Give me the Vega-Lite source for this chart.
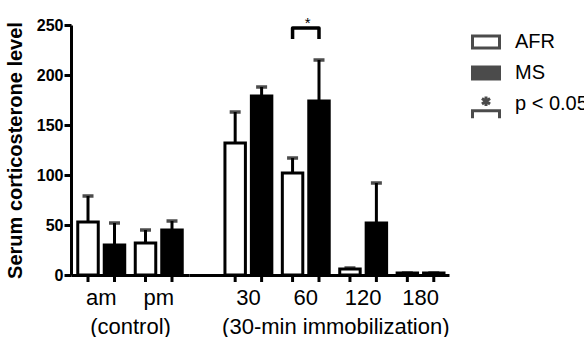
{
  "$schema": "https://vega.github.io/schema/vega-lite/v6.json",
  "padding": {"left": 5, "top": 15, "right": 0, "bottom": 0},
  "config": {
    "font": "Liberation Sans",
    "view": {"stroke": null},
    "concat": {"spacing": 0},
    "axis": {"domainColor": "black", "domainWidth": 3, "tickColor": "black", "tickWidth": 3, "grid": false, "labelColor": "black", "titleColor": "black"},
    "legend": {"labelFont": "Liberation Sans", "labelFontSize": 20, "labelColor": "black", "symbolStrokeColor": "black", "symbolStrokeWidth": 3, "symbolSize": 729, "labelOffset": 14, "rowPadding": 3, "offset": 20, "padding": 2}
  },
  "datasets": {
    "control": [
      {"time": "am", "series": "AFR", "mean": 53, "upper": 79},
      {"time": "am", "series": "MS", "mean": 30, "upper": 52},
      {"time": "pm", "series": "AFR", "mean": 32, "upper": 45},
      {"time": "pm", "series": "MS", "mean": 45, "upper": 54}
    ],
    "immob": [
      {"time": "30", "series": "AFR", "mean": 132, "upper": 163},
      {"time": "30", "series": "MS", "mean": 179, "upper": 188},
      {"time": "60", "series": "AFR", "mean": 102, "upper": 117},
      {"time": "60", "series": "MS", "mean": 174, "upper": 215},
      {"time": "120", "series": "AFR", "mean": 6, "upper": 7},
      {"time": "120", "series": "MS", "mean": 52, "upper": 92},
      {"time": "180", "series": "AFR", "mean": 2, "upper": 2},
      {"time": "180", "series": "MS", "mean": 2, "upper": 2}
    ],
    "bracket": [
      {"time": "60", "series": "AFR", "y": 236, "k": 1},
      {"time": "60", "series": "AFR", "y": 247, "k": 2},
      {"time": "60", "series": "MS", "y": 247, "k": 3},
      {"time": "60", "series": "MS", "y": 236, "k": 4}
    ],
    "star": [{"time": "60", "y": 255, "label": "*"}]
  },
  "hconcat": [
    {
      "width": 118,
      "height": 250,
      "data": {"name": "control"},
      "encoding": {
        "x": {"field": "time", "type": "nominal", "sort": null,
          "scale": {"paddingInner": 0.183, "paddingOuter": 0.1175, "align": 0.5},
          "axis": {"title": "(control)", "labelAngle": 0, "ticks": false, "labelFontSize": 22, "labelPadding": 12, "titleFontSize": 22, "titleFontWeight": "normal", "titlePadding": 8}},
        "xOffset": {"field": "series", "type": "nominal", "scale": {"paddingInner": 0.226, "paddingOuter": 0}}
      },
      "layer": [
        {"mark": {"type": "rule", "strokeWidth": 3, "color": "black"},
          "encoding": {
            "y": {"field": "mean", "type": "quantitative", "scale": {"domain": [0, 250], "nice": false},
              "axis": {"title": "Serum corticosterone level", "values": [0, 50, 100, 150, 200, 250], "labelFontSize": 16, "labelFontWeight": "bold", "titleFontSize": 20, "titleFontWeight": "bold", "tickSize": 7, "labelPadding": 1, "titlePadding": 11}},
            "y2": {"field": "upper"}}},
        {"mark": {"type": "tick", "orient": "horizontal", "size": 11, "thickness": 3.5, "color": "black"},
          "encoding": {"y": {"field": "upper", "type": "quantitative"}}},
        {"mark": {"type": "bar", "stroke": "black", "strokeWidth": 3},
          "encoding": {
            "y": {"field": "mean", "type": "quantitative"},
            "fill": {"field": "series", "type": "nominal", "scale": {"domain": ["AFR", "MS", "p < 0.05"], "range": ["white", "black", "white"]}, "legend": {"title": null}}}},
        {"mark": {"type": "rule", "strokeWidth": 3, "color": "black"},
          "encoding": {"y": {"datum": 0}, "y2": {"datum": -7}}}
      ]
    },
    {
      "width": 260,
      "height": 250,
      "encoding": {
        "x": {"field": "time", "type": "nominal", "sort": null,
          "scale": {"paddingInner": 0.183, "paddingOuter": 0.3567, "align": 0.878},
          "axis": {"title": "(30-min immobilization)", "titleAnchor": "end", "titleAlign": "right", "labelAngle": 0, "ticks": false, "labelFontSize": 22, "labelPadding": 12, "titleFontSize": 22, "titleFontWeight": "normal", "titlePadding": 8}}
      },
      "layer": [
        {"data": {"name": "immob"},
          "mark": {"type": "rule", "strokeWidth": 3, "color": "black"},
          "encoding": {
            "xOffset": {"field": "series", "type": "nominal", "scale": {"paddingInner": 0.226, "paddingOuter": 0}},
            "y": {"field": "mean", "type": "quantitative", "axis": null},
            "y2": {"field": "upper"}}},
        {"data": {"name": "immob"},
          "mark": {"type": "tick", "orient": "horizontal", "size": 11, "thickness": 3.5, "color": "black"},
          "encoding": {
            "xOffset": {"field": "series", "type": "nominal"},
            "y": {"field": "upper", "type": "quantitative", "axis": null}}},
        {"data": {"name": "immob"},
          "mark": {"type": "bar", "stroke": "black", "strokeWidth": 3},
          "encoding": {
            "xOffset": {"field": "series", "type": "nominal"},
            "y": {"field": "mean", "type": "quantitative", "axis": null},
            "fill": {"field": "series", "type": "nominal", "legend": {"title": null}}}},
        {"data": {"name": "immob"},
          "mark": {"type": "rule", "strokeWidth": 3, "color": "black"},
          "encoding": {
            "xOffset": {"field": "series", "type": "nominal"},
            "y": {"datum": 0, "axis": null}, "y2": {"datum": -7}}},
        {"data": {"name": "bracket"},
          "mark": {"type": "line", "strokeWidth": 3.5, "color": "black", "strokeJoin": "round"},
          "encoding": {
            "xOffset": {"field": "series", "type": "nominal"},
            "y": {"field": "y", "type": "quantitative", "axis": null},
            "order": {"field": "k"}}},
        {"data": {"name": "star"},
          "mark": {"type": "text", "fontSize": 15, "color": "black", "baseline": "middle", "dy": 3, "dx": 2},
          "encoding": {
            "y": {"field": "y", "type": "quantitative", "axis": null},
            "text": {"field": "label"}}},
        {"data": {"values": []},
          "mark": {"type": "point", "filled": true, "stroke": "black", "strokeWidth": 3},
          "encoding": {
            "fill": {"field": "series", "type": "nominal", "legend": {"title": null}},
            "shape": {"field": "series", "type": "nominal", "scale": {"domain": ["AFR", "MS", "p < 0.05"], "range": ["M-1,-0.45H1V0.45H-1Z", "M-1,-0.45H1V0.45H-1Z", "M-1,1.05V0.5H1V1.05M0,-0.55V0.15M-0.3,-0.4L0.3,0M0.3,-0.4L-0.3,0"]}, "legend": {"title": null}}}}
      ]
    }
  ],
  "resolve": {"scale": {"x": "independent", "y": "shared", "fill": "shared", "shape": "shared", "xOffset": "independent"}}
}
